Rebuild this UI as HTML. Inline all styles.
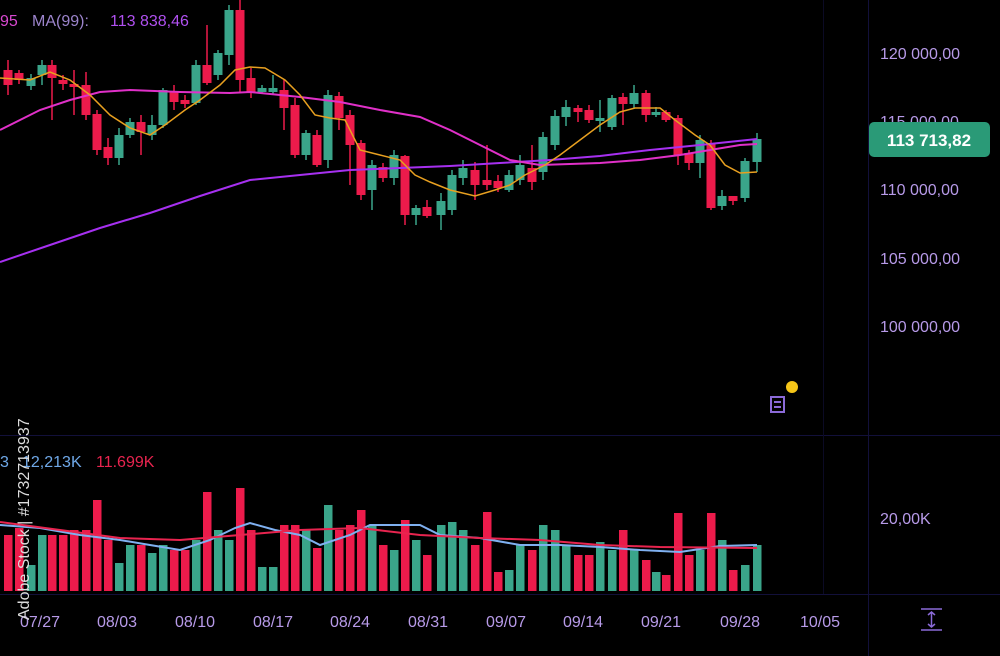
<!DOCTYPE html>
<html><head><meta charset="utf-8"><style>
html,body{margin:0;padding:0;background:#000;}
svg{display:block;font-family:"Liberation Sans",sans-serif;}
</style></head><body>
<svg id="s" width="1000" height="656" viewBox="0 0 1000 656" xmlns="http://www.w3.org/2000/svg">
<rect width="1000" height="656" fill="#000"/>
<g stroke="#12103a" stroke-width="1">
<line x1="0" y1="435.5" x2="1000" y2="435.5"/>
<line x1="0" y1="594.5" x2="1000" y2="594.5"/>
<line x1="868.5" y1="0" x2="868.5" y2="656"/>
<line x1="823.5" y1="0" x2="823.5" y2="594" stroke="#0b0a24"/>
</g>
<g id="c"></g>
<g fill="#b79ae8" font-size="16">
<text x="880" y="59">120 000,00</text>
<text x="880" y="127">115 000,00</text>
<text x="880" y="195">110 000,00</text>
<text x="880" y="264">105 000,00</text>
<text x="880" y="332">100 000,00</text>
<text x="880" y="524">20,00K</text>
<text x="20" y="627">07/27</text>
<text x="97" y="627">08/03</text>
<text x="175" y="627">08/10</text>
<text x="253" y="627">08/17</text>
<text x="330" y="627">08/24</text>
<text x="408" y="627">08/31</text>
<text x="486" y="627">09/07</text>
<text x="563" y="627">09/14</text>
<text x="641" y="627">09/21</text>
<text x="720" y="627">09/28</text>
<text x="800" y="627">10/05</text>
</g>
<rect x="869" y="122" width="121" height="35" rx="5" fill="#2a9a77"/>
<text x="929" y="146" fill="#fff" font-size="17" font-weight="bold" text-anchor="middle">113 713,82</text>
<text x="0" y="26" fill="#d848d0" font-size="16">95</text>
<text x="32" y="26" fill="#9c84cc" font-size="16">MA(99):</text>
<text x="110" y="26" fill="#b050f0" font-size="16">113 838,46</text>
<text x="0" y="467" fill="#6fa8e8" font-size="16">3</text>
<text x="22" y="467" fill="#6fa8e8" font-size="16">12,213K</text>
<text x="96" y="467" fill="#e8244f" font-size="16">11.699K</text>
<text transform="translate(29,620) rotate(-90)" fill="#ddd" font-size="16">Adobe Stock | #1732713937</text>
<circle cx="792" cy="387" r="6" fill="#f5c518"/>
<rect x="771" y="397" width="13" height="15" fill="none" stroke="#8b6ad8" stroke-width="2"/>
<line x1="774" y1="402" x2="781" y2="402" stroke="#8b6ad8" stroke-width="2"/>
<line x1="774" y1="407" x2="781" y2="407" stroke="#8b6ad8" stroke-width="2"/>
<g stroke="#8b6ad8" stroke-width="1.5" fill="none">
<line x1="921" y1="609" x2="942" y2="609"/><line x1="921" y1="630" x2="942" y2="630"/>
<line x1="931.5" y1="612" x2="931.5" y2="627"/>
<polyline points="928,615 931.5,612 935,615"/><polyline points="928,624 931.5,627 935,624"/>
</g>
</svg>
<script>
var G='#3aa58a',R='#ec1b4b';
var c=[[8,70,85,60,95,R],[19,73,80,70,84,R],[31,78,86,74,90,G],[42,65,75,60,85,G],[52,65,78,60,120,R],[63,80,84,75,90,R],[74,84,87,70,115,R],[86,85,115,72,120,R],[97,114,150,110,155,R],[108,147,158,138,165,R],[119,135,158,128,165,G],[130,122,135,118,138,G],[141,122,132,115,155,R],[152,125,135,115,140,G],[163,90,125,88,128,G],[174,92,102,85,110,R],[185,100,104,95,108,R],[196,65,103,60,105,G],[207,65,83,25,85,R],[218,53,75,50,80,G],[229,10,55,5,65,G],[240,10,80,0,92,R],[251,78,92,68,98,R],[262,88,92,85,94,G],[273,88,92,75,95,G],[284,90,108,80,130,R],[295,105,155,98,158,R],[306,133,155,130,160,G],[317,135,165,130,167,R],[328,95,160,90,168,G],[339,96,118,92,130,R],[350,115,145,110,185,R],[361,143,195,140,200,R],[372,165,190,160,210,G],[383,167,178,163,182,R],[394,155,178,150,185,G],[405,156,215,155,225,R],[416,208,215,205,225,G],[427,207,216,200,218,R],[441,201,215,193,230,G],[452,175,210,170,215,G],[463,168,178,160,185,G],[475,170,185,162,200,R],[487,180,185,145,190,R],[498,181,188,175,192,R],[509,175,190,170,192,G],[520,165,180,155,185,G],[532,168,182,145,190,R],[543,137,172,132,180,G],[555,116,145,110,150,G],[566,107,117,100,126,G],[578,108,112,105,122,R],[589,110,120,105,123,R],[600,118,121,100,132,G],[612,98,127,95,130,G],[623,97,104,93,125,R],[634,93,104,85,108,G],[646,93,115,90,122,R],[656,112,115,107,117,G],[666,112,120,110,122,R],[678,118,155,115,165,R],[689,153,163,150,170,R],[700,140,163,135,178,G],[711,143,208,140,210,R],[722,196,206,190,210,G],[733,196,201,196,205,R],[745,161,198,158,202,G],[757,139,162,133,172,G]];
var v=[535,528,565,535,535,535,530,530,500,540,563,545,545,553,545,550,550,540,492,530,540,488,530,567,567,525,525,530,548,505,530,525,510,525,545,550,520,540,555,525,522,530,545,512,572,570,545,550,525,530,545,555,555,542,550,530,550,560,572,575,513,555,550,513,540,570,565,545];
var h='';
for(var i=0;i<c.length;i++){var d=c[i],x=d[0];
h+='<line x1="'+x+'" y1="'+d[3]+'" x2="'+x+'" y2="'+d[4]+'" stroke="'+d[5]+'" stroke-width="1.5"/>';
h+='<rect x="'+(x-4.5)+'" y="'+d[1]+'" width="9" height="'+Math.max(2,d[2]-d[1])+'" fill="'+d[5]+'"/>';
var t=v[i]||545;h+='<rect x="'+(x-4)+'" y="'+t+'" width="8.5" height="'+(591-t)+'" fill="'+d[5]+'"/>';}
function pl(p,col,w){return '<polyline fill="none" stroke="'+col+'" stroke-width="'+w+'" points="'+p+'"/>';}
h+=pl('0,262 50,245 100,228 150,213 200,196 250,180 300,175 350,170 400,168 450,166 500,163 550,160 600,156 650,150 700,145 757,139','#a630f0',2);
h+=pl('0,130 40,110 70,100 100,92 130,90 180,92 230,93 250,92 300,97 340,102 380,110 420,117 450,130 480,145 510,160 540,165 600,163 640,160 680,155 710,150 740,145 757,144','#e030c8',2);
h+=pl('0,78 30,80 50,72 70,80 90,95 110,115 130,128 150,135 165,125 185,110 200,100 220,85 235,70 250,67 265,68 285,80 300,95 315,115 330,118 345,120 360,150 380,155 400,160 415,175 430,182 450,190 475,196 495,190 510,185 525,175 545,165 560,155 580,140 600,125 620,112 635,108 660,108 675,120 695,135 710,145 725,165 740,173 757,172','#e8a020',1.5);
h+=pl('0,525 40,528 80,535 120,540 150,545 180,550 210,540 235,528 250,523 275,530 300,535 320,545 350,535 370,525 420,525 440,535 480,538 520,545 560,545 600,547 640,550 680,552 720,546 757,545','#7fb0f0',2);
h+=pl('0,522 60,530 120,538 180,540 240,535 300,530 360,528 420,535 480,538 540,540 600,545 660,547 757,548','#e8244f',2);
document.getElementById('c').innerHTML=h;
</script>
</body></html>
